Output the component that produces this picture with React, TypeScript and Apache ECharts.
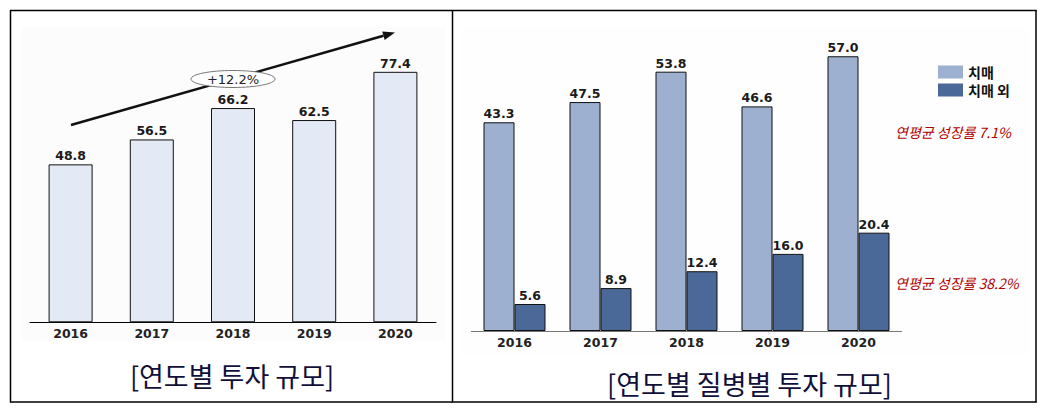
import React, { useEffect, useRef } from "react";
import * as echarts from "echarts";

const years = ["2016", "2017", "2018", "2019", "2020"];
const totalInvest = [48.8, 56.5, 66.2, 62.5, 77.4];
const dementia = [43.3, 47.5, 53.8, 46.6, 57.0];
const nonDementia = [5.6, 8.9, 12.4, 16.0, 20.4];
const seriesNames = ["치매", "치매 외"];
const growthTotal = "+12.2%";
const growthDementia = "연평균 성장률 7.1%";
const growthNonDementia = "연평균 성장률 38.2%";
const captionLeft = "[연도별 투자 규모]";
const captionRight = "[연도별 질병별 투자 규모]";

const NUM_FONT = "DejaVu Sans";
const KR_FONT = "Noto Sans CJK KR";

export default function App() {
  const ref = useRef<HTMLDivElement>(null);
  useEffect(() => {
    if (!ref.current) return;
    const chart = echarts.init(ref.current, undefined, { renderer: "svg" });
    const valueLabel = {
      show: true,
      position: "top",
      distance: 2,
      fontFamily: NUM_FONT,
      fontWeight: "bold",
      fontSize: 12.5,
      color: "#1a1a1a",
      formatter: (p: any) => Number(p.value).toFixed(1),
    };
    const axisLabel = {
      fontFamily: NUM_FONT,
      fontWeight: "bold",
      fontSize: 12.5,
      color: "#222",
      margin: 5,
    };
    // arrow geometry
    const x1 = 71, y1 = 125, x2 = 395, y2 = 32.5;
    const len = Math.hypot(x2 - x1, y2 - y1);
    const ux = (x2 - x1) / len, uy = (y2 - y1) / len;
    const hl = 12, hw = 4.5;
    const bx = x2 - ux * hl, by = y2 - uy * hl;
    const px = -uy, py = ux;

    chart.setOption({
      animation: false,
      backgroundColor: "#ffffff",
      legend: {
        data: seriesNames,
        orient: "vertical",
        left: 933,
        top: 60,
        icon: "rect",
        itemWidth: 25,
        itemHeight: 13,
        itemGap: 4,
        itemStyle: { borderWidth: 0 },
        textStyle: { fontFamily: KR_FONT, fontWeight: "bold", fontSize: 14, lineHeight: 13, color: "#111" },
      },
      grid: [
        { left: 30, width: 406, top: 63.4, height: 258.9, containLabel: false },
        { left: 471.5, width: 430, top: 41.8, height: 289.2, containLabel: false },
      ],
      xAxis: [
        {
          type: "category",
          gridIndex: 0,
          data: years,
          axisLine: { lineStyle: { color: "#000", width: 1 } },
          axisTick: { show: false },
          axisLabel,
        },
        {
          type: "category",
          gridIndex: 1,
          data: years,
          axisLine: { lineStyle: { color: "#777", width: 1 } },
          axisTick: { show: false },
          axisLabel: { ...axisLabel, margin: 5 },
        },
      ],
      yAxis: [
        { type: "value", gridIndex: 0, min: 0, max: 80, show: false, splitLine: { show: false } },
        { type: "value", gridIndex: 1, min: 0, max: 60, show: false, splitLine: { show: false } },
      ],
      series: [
        {
          type: "bar",
          name: "total",
          xAxisIndex: 0,
          yAxisIndex: 0,
          data: totalInvest,
          barWidth: 44,
          itemStyle: { color: "#e3eaf5", borderColor: "#111", borderWidth: 1 },
          label: valueLabel,
        },
        {
          type: "bar",
          name: seriesNames[0],
          xAxisIndex: 1,
          yAxisIndex: 1,
          data: dementia,
          barWidth: 31,
          barGap: "0%",
          itemStyle: { color: "#9db0d0", borderColor: "#111", borderWidth: 1 },
          label: valueLabel,
        },
        {
          type: "bar",
          name: seriesNames[1],
          xAxisIndex: 1,
          yAxisIndex: 1,
          data: nonDementia,
          barWidth: 31,
          barGap: "0%",
          itemStyle: { color: "#4a6898", borderColor: "#111", borderWidth: 1 },
          label: valueLabel,
        },
      ],
      graphic: [
        // faint panel backgrounds
        { type: "rect", z: -10, shape: { x: 22, y: 27, width: 423, height: 314 }, style: { fill: "#fcfcfc" }, silent: true },
        { type: "rect", z: -10, shape: { x: 462, y: 27, width: 568, height: 328 }, style: { fill: "#fefefe" }, silent: true },
        // table frame
        { type: "line", shape: { x1: 10, y1: 10.5, x2: 1036.5, y2: 10.5 }, style: { stroke: "#000", lineWidth: 1.5 } },
        { type: "line", shape: { x1: 10, y1: 402, x2: 1036.5, y2: 402 }, style: { stroke: "#000", lineWidth: 1.5 } },
        { type: "line", shape: { x1: 10.5, y1: 10, x2: 10.5, y2: 402.5 }, style: { stroke: "#000", lineWidth: 1.5 } },
        { type: "line", shape: { x1: 1036, y1: 10, x2: 1036, y2: 402.5 }, style: { stroke: "#000", lineWidth: 1.5 } },
        { type: "line", shape: { x1: 452.5, y1: 10, x2: 452.5, y2: 402.5 }, style: { stroke: "#000", lineWidth: 1.5 } },
        // growth arrow
        { type: "line", z: 5, shape: { x1, y1, x2: bx, y2: by }, style: { stroke: "#111", lineWidth: 2.5 } },
        {
          type: "polygon",
          z: 5,
          shape: { points: [[x2, y2], [bx + px * hw, by + py * hw], [bx - px * hw, by - py * hw]] },
          style: { fill: "#111" },
        },
        { type: "ellipse", z: 6, shape: { cx: 233, cy: 79, rx: 42, ry: 8.5 }, style: { fill: "#fff", stroke: "#777", lineWidth: 1 } },
        {
          type: "text",
          z: 7,
          x: 233,
          y: 79,
          style: { text: growthTotal, fontFamily: NUM_FONT, fontSize: 13, fill: "#222", align: "center", verticalAlign: "middle" },
        },
        // growth notes right chart
        {
          type: "text",
          x: 895,
          y: 131.5,
          style: { text: growthDementia, fontFamily: KR_FONT, fontStyle: "italic", fontSize: 14, fill: "#b00000", align: "left", verticalAlign: "middle" },
        },
        {
          type: "text",
          x: 895,
          y: 283,
          style: { text: growthNonDementia, fontFamily: KR_FONT, fontStyle: "italic", fontSize: 14, fill: "#b00000", align: "left", verticalAlign: "middle" },
        },
        // captions
        {
          type: "text",
          x: 232,
          y: 375,
          style: { text: captionLeft, fontFamily: KR_FONT, fontSize: 27, fill: "#10103a", align: "center", verticalAlign: "middle" },
        },
        {
          type: "text",
          x: 749.5,
          y: 383,
          style: { text: captionRight, fontFamily: KR_FONT, fontSize: 27, fill: "#10103a", align: "center", verticalAlign: "middle" },
        },
      ],
    });
    return () => chart.dispose();
  }, []);
  return (
    <div
      ref={ref}
      style={{ position: "fixed", left: 0, top: 0, width: 1051, height: 411, background: "#fff" }}
    />
  );
}
